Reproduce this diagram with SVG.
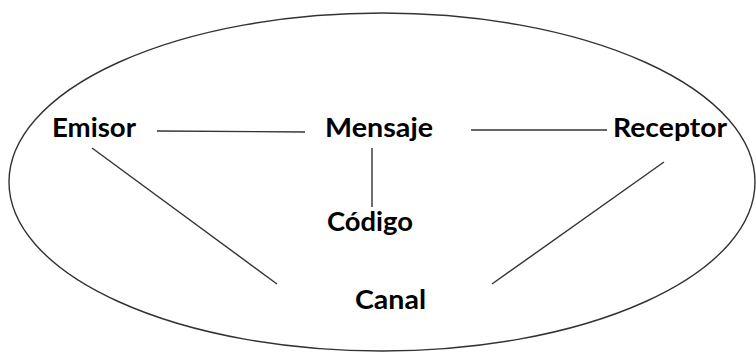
<svg xmlns="http://www.w3.org/2000/svg" width="756" height="352" viewBox="0 0 756 352">
  <style>
    .lbl { font-family: "Lato", "Open Sans", "Liberation Sans", sans-serif; font-weight: bold; font-size: 26px; fill: #000; }
    .edge { stroke: #333; stroke-width: 1.4; fill: none; }
    .frame { stroke: #333; stroke-width: 1.4; fill: #fff; }
  </style>
  <rect width="756" height="352" fill="#fff"/>
  <ellipse class="frame" cx="382" cy="182" rx="373" ry="169"/>
  <g id="connectors">
    <line class="edge" x1="157" y1="131" x2="305" y2="132"/>
    <line class="edge" x1="471" y1="130" x2="607" y2="130"/>
    <line class="edge" x1="372" y1="148" x2="372" y2="207"/>
    <line class="edge" x1="92" y1="148" x2="277" y2="284"/>
    <line class="edge" x1="664" y1="162" x2="492" y2="284"/>
  </g>
  <g id="emisor"><text class="lbl" x="52" y="137" textLength="84" lengthAdjust="spacingAndGlyphs">Emisor</text></g>
  <g id="mensaje"><text class="lbl" x="325" y="137" textLength="108" lengthAdjust="spacingAndGlyphs">Mensaje</text></g>
  <g id="receptor"><text class="lbl" x="613" y="137" textLength="114" lengthAdjust="spacingAndGlyphs">Receptor</text></g>
  <g id="codigo"><text class="lbl" x="327" y="231" textLength="86" lengthAdjust="spacingAndGlyphs">Código</text></g>
  <g id="canal"><text class="lbl" x="355" y="309" textLength="71" lengthAdjust="spacingAndGlyphs">Canal</text></g>
</svg>
